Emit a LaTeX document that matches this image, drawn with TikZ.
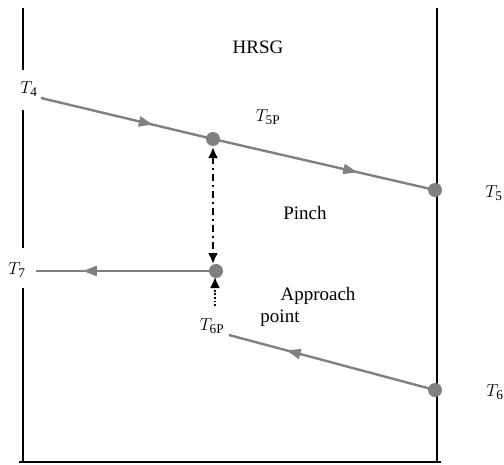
\documentclass[tikz,border=0pt]{standalone}
\usepackage{fontspec}
\setmainfont{Liberation Serif}
\usetikzlibrary{arrows.meta,decorations.markings}
\begin{document}
\begin{tikzpicture}[x=1pt,y=-1pt,
  wall/.style={line width=2.6pt,black},
  stream/.style={line width=2.4pt,gray},
  midarrow/.style={postaction={decorate},decoration={markings,mark=at position #1 with {\arrow{Triangle[length=14pt,width=10pt]}}}},
  dot/.style={circle,fill=gray,inner sep=0pt,minimum size=14pt},
  lbl/.style={inner sep=1pt,font=\fontsize{19}{22}\selectfont},
  tip/.style={-{Latex[length=11pt,width=10pt]}}]
\useasboundingbox (0,0) rectangle (504,464);
% walls
\coordinate (lt) at (23,8);
\coordinate (lb) at (23,462);
\coordinate (rt) at (437,8);
\coordinate (rb) at (437,462);
\draw[wall] (lt) -- (23,70);
\draw[wall] (23,110) -- (23,248);
\draw[wall] (23,288) -- (lb);
\draw[wall] (rt) -- (rb);
\draw[wall] (19,462) -- (441,462);
% labels
\node[lbl] (hrsg) at (258,47) {HRSG};
\node[lbl] (t4) at (29,89) {$T_{\mathrm{4}}$};
\node[lbl] (t5p) at (268,117) {$T_{\mathrm{5P}}$};
\node[lbl] (t5) at (494,193) {$T_{\mathrm{5}}$};
\node[lbl] (pinch) at (305,213) {Pinch};
\node[lbl] (t7) at (17,270) {$T_{\mathrm{7}}$};
\node[lbl] (appr) at (318,296) {Approach};
\node[lbl] (pt) at (280,318) {point};
\node[lbl] (t6p) at (212,326) {$T_{\mathrm{6P}}$};
\node[lbl] (t6) at (495,392) {$T_{\mathrm{6}}$};
% points
\coordinate (a) at (41,98);
\coordinate (p) at (213,139);
\coordinate (b) at (435,190);
\coordinate (c) at (36,271);
\coordinate (q) at (216,271);
\coordinate (d) at (229,335);
\coordinate (e) at (435,390);
\coordinate (f) at (215,306);
% streams
\draw[stream,midarrow=0.65] (a) -- (p);
\draw[stream,midarrow=0.65] (p) -- (b);
\draw[stream,midarrow=0.74] (q) -- (c);
\draw[stream,midarrow=0.72] (e) -- (d);
% dots
\node[dot] (pd) at (p) {};
\node[dot] (bd) at (b) {};
\node[dot] (qd) at (q) {};
\node[dot] (ed) at (e) {};
% pinch arrows
\draw[line width=2.2pt,dash pattern=on 7pt off 4pt on 2pt off 4pt,
  {Latex[length=11pt,width=10pt]}-{Latex[length=11pt,width=10pt]}] (213,147) -- (213,264);
\draw[line width=1.8pt,dash pattern=on 1.8pt off 1.8pt,tip] (f) -- (215,277);
\end{tikzpicture}
\end{document}
